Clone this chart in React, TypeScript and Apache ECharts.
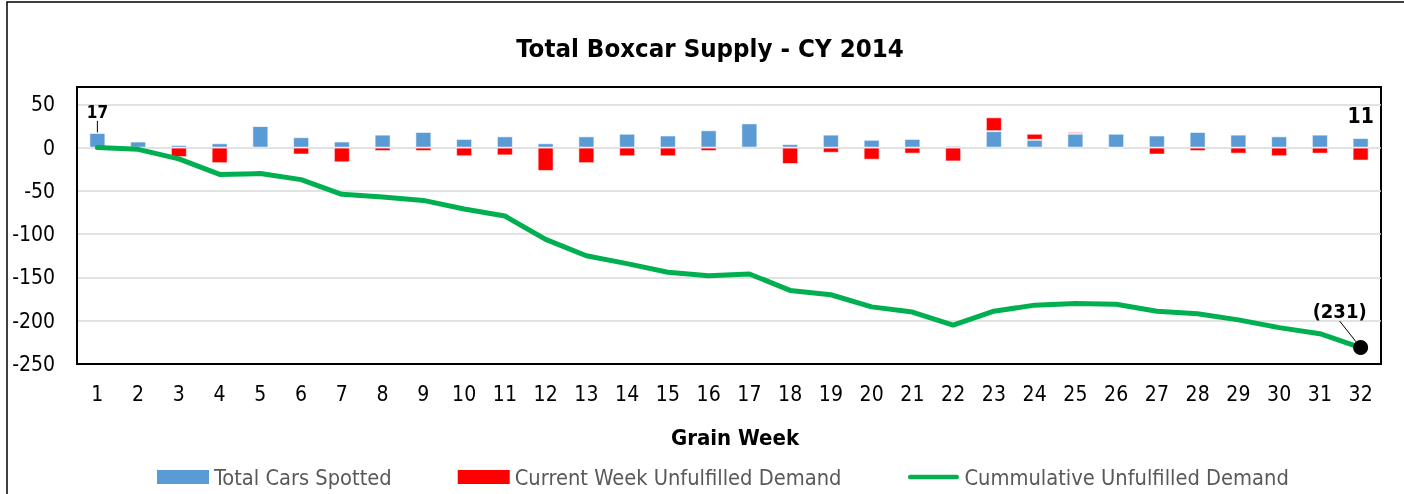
import React, { useEffect, useRef } from 'react';
import * as echarts from 'echarts';

const weeks = ['1', '2', '3', '4', '5', '6', '7', '8', '9', '10', '11', '12', '13', '14', '15', '16',
  '17', '18', '19', '20', '21', '22', '23', '24', '25', '26', '27', '28', '29', '30', '31', '32'];

const totalCarsSpotted = [17, 7, 3, 5, 25, 12, 7, 15, 18, 10, 13, 5, 13, 16, 14, 20,
  28, 4, 15, 9, 10, 2, 19, 9, 16, 16, 14, 18, 15, 13, 15, 11];

const currentWeekUnfulfilled = [0, 0, -11, -18, 0, -8, -17, -4, -4, -10, -9, -27, -18, -10, -10, -4,
  0, -19, -6, -14, -7, -16, 16, 7, 2, -1, -8, -4, -7, -10, -7, -15];

const cumulativeUnfulfilled = [0, -2, -13, -31, -30, -37, -54, -57, -61, -71, -79, -106, -125, -134, -144, -148,
  -146, -165, -170, -184, -190, -205, -189, -182, -180, -181, -189, -192, -199, -208, -215, -231];

const yTicks = { min: -250, max: 70, interval: 50 };

const FONT = "'DejaVu Sans Condensed', 'DejaVu Sans', sans-serif";

const LINE_ICON = 'path://M0,0 M56,14 M3,4.5 L53,4.5 A2.5,2.5 0 0 1 53,9.5 L3,9.5 A2.5,2.5 0 0 1 3,4.5 Z';

export default function App() {
  const ref = useRef<HTMLDivElement>(null);

  useEffect(() => {
    if (!ref.current) return;
    const chart = echarts.init(ref.current, null, { renderer: 'svg' });
    const last = weeks.length - 1;

    const blueData = totalCarsSpotted.map((v, i) => {
      if (i === 0) {
        return {
          value: v,
          label: { show: true, position: 'top', distance: 4, fontSize: 17, fontWeight: 'bold', color: '#000', fontFamily: FONT },
          labelLine: { show: true, lineStyle: { color: '#000', width: 1 } },
        };
      }
      if (i === last) {
        return {
          value: v,
          label: { show: true, position: 'top', distance: 12, fontSize: 21, fontWeight: 'bold', color: '#000', fontFamily: FONT },
        };
      }
      return v;
    });

    const lineData = cumulativeUnfulfilled.map((v, i) => {
      if (i === last) {
        return {
          value: v,
          symbol: 'circle',
          symbolSize: 15,
          itemStyle: { color: '#000' },
          label: {
            show: true,
            position: 'top',
            fontSize: 20,
            fontWeight: 'bold',
            color: '#000',
            fontFamily: FONT,
            formatter: (p: any) => `(${Math.abs(p.value)})`,
          },
        };
      }
      return v;
    });

    chart.setOption({
      animation: false,
      textStyle: { fontFamily: FONT },
      title: {
        text: 'Total Boxcar Supply - CY 2014',
        left: 705,
        textAlign: 'center',
        top: 30,
        textStyle: { fontSize: 25.6, fontWeight: 'bold', color: '#000', fontFamily: FONT },
      },
      graphic: [
        {
          type: 'rect',
          shape: { x: 7, y: 2, width: 1430, height: 530 },
          style: { fill: 'none', stroke: '#000', lineWidth: 1.5 },
          silent: true,
        },
      ],
      legend: {
        left: 157,
        top: 466,
        padding: 0,
        itemWidth: 52,
        itemHeight: 14,
        itemGap: 66,
        textStyle: { fontSize: 21.7, color: '#595959', fontFamily: FONT },
        itemStyle: { borderWidth: 0 },
        data: [
          { name: 'Total Cars Spotted', icon: 'rect' },
          { name: 'Current Week Unfulfilled Demand', icon: 'rect' },
          { name: 'Cummulative Unfulfilled Demand', icon: LINE_ICON, itemStyle: { color: '#00B050', borderWidth: 0 } },
        ],
      },
      grid: {
        left: 77,
        right: 23,
        top: 87,
        bottom: 130,
        show: true,
        borderColor: '#000',
        borderWidth: 2,
        backgroundColor: 'transparent',
      },
      xAxis: {
        type: 'category',
        data: weeks,
        axisLine: { onZero: false, lineStyle: { color: '#000', width: 2 } },
        axisTick: { show: false },
        axisLabel: { margin: 19, fontSize: 21, color: '#000', fontFamily: FONT },
        name: 'Grain Week',
        nameLocation: 'middle',
        nameGap: 62,
        nameTextStyle: { fontSize: 22, fontWeight: 'bold', color: '#000', fontFamily: FONT, padding: [0, 0, 0, 12] },
      },
      yAxis: {
        type: 'value',
        min: yTicks.min,
        max: yTicks.max,
        interval: yTicks.interval,
        axisLine: { show: true, lineStyle: { color: '#000', width: 2 } },
        axisTick: { show: false },
        axisLabel: {
          margin: 22,
          fontSize: 21,
          color: '#000',
          fontFamily: FONT,
          showMaxLabel: false,
          formatter: (v: number) => (v === yTicks.max ? '' : String(v)),
        },
        splitLine: {
          show: true,
          showMinLine: false,
          showMaxLine: false,
          lineStyle: { color: '#d9d9d9', width: 1.5 },
        },
      },
      series: [
        {
          name: 'Total Cars Spotted',
          type: 'bar',
          stack: 'supply',
          barWidth: 16,
          data: blueData,
          itemStyle: { color: '#5B9BD5', borderColor: 'rgba(255,255,255,0.55)', borderWidth: 1 },
          labelLayout: (params: any) => (params.dataIndex === 0 ? { dy: -8 } : {}),
        },
        {
          name: 'Current Week Unfulfilled Demand',
          type: 'bar',
          stack: 'supply',
          barWidth: 16,
          data: currentWeekUnfulfilled,
          itemStyle: { color: '#FF0000', borderColor: 'rgba(255,255,255,0.55)', borderWidth: 1 },
        },
        {
          name: 'Cummulative Unfulfilled Demand',
          type: 'line',
          data: lineData,
          symbol: 'none',
          color: '#00B050',
          lineStyle: { color: '#00B050', width: 5, cap: 'round', join: 'round' },
          labelLine: { show: true, lineStyle: { color: '#000', width: 1 } },
          labelLayout: { dx: -21, dy: -14 },
          z: 3,
        },
      ],
    });

    return () => chart.dispose();
  }, []);

  return <div ref={ref} style={{ position: 'fixed', left: 0, top: 0, width: 1404, height: 494 }} />;
}
